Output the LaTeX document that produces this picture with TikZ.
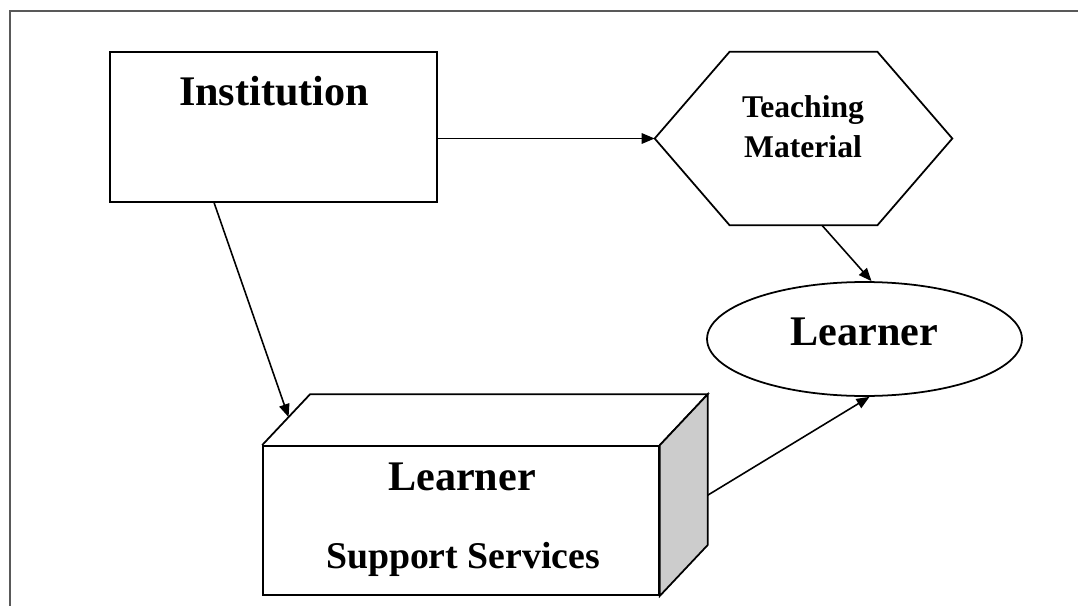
\documentclass[tikz,border=0pt]{standalone}
\usepackage{fontspec}
\setmainfont{Liberation Serif}
\usetikzlibrary{arrows.meta,shapes.geometric,calc}

\begin{document}
\begin{tikzpicture}[x=0.02cm,y=-0.02cm,
	shape line/.style={draw, line width=1pt},
	arr/.style={-{Triangle[length=0.26cm,width=0.21cm]}, line width=0.9pt},
	big/.style={font=\bfseries\fontsize{24}{28}\selectfont},
	]
	\useasboundingbox (0,0) rectangle (1078,605);
	\clip (0,0) rectangle (1078,605);
	\draw[line width=0.04cm, black!65] (10,11) rectangle (1100,640);
	% institution
	\node[shape line, minimum width=6.54cm, minimum height=3cm] (inst) at (273.5,127) {};
	\node[anchor=base, big] (insttxt) at (274,105) {Institution};
	% teaching material
	\node[minimum width=5.94cm, minimum height=3.46cm, inner sep=0pt] (hexa) at (803.5,138.5) {};
	\draw[shape line] (hexa.west) -- ([xshift=1.5cm]hexa.north west) -- ([xshift=-1.5cm]hexa.north east)
		-- (hexa.east) -- ([xshift=-1.5cm]hexa.south east) -- ([xshift=1.5cm]hexa.south west) -- cycle;
	\node[align=center, font=\bfseries\fontsize{18}{22.7}\selectfont] (teach) at (803,127) {Teaching\\Material};
	% learner
	\node[shape line, ellipse, minimum width=6.3cm, minimum height=2.28cm, inner sep=0pt,
		text depth=0.28cm, big] (learner) at (864.5,339) {Learner};
	% learner support services
	\node[shape line, minimum width=7.92cm, minimum height=2.98cm, inner sep=0pt] (sup) at (461,520.5) {};
	\coordinate (suptl) at ($(sup.north west)+(48,-51)$);
	\coordinate (suptr) at ($(sup.north east)+(48,-51)$);
	\coordinate (supbr) at ($(sup.south east)+(48,-51)$);
	\draw[shape line] (sup.north west) -- (suptl) -- (suptr) -- (sup.north east);
	\draw[shape line, fill=gray!40] (sup.north east) -- (suptr) -- (supbr) -- (sup.south east) -- cycle;
	\node[anchor=base, big] (suplearn) at (462,490) {Learner};
	\node[anchor=base, font=\bfseries\fontsize{21.5}{26}\selectfont] (supserv) at (463,568) {Support Services};
	% arrows
	\draw[arr] (inst.east |- hexa.west) -- (hexa.west);
	\draw[arr] ([xshift=2.1cm]inst.south west) -- ($(sup.north west)!0.55!(suptl)$);
	\draw[arr] ([xshift=0.37cm]hexa.south) -- ([xshift=0.14cm]learner.north);
	\draw[arr] ($(suptr)!0.67!(supbr)$) -- ([xshift=0.1cm]learner.south);
\end{tikzpicture}
\end{document}
